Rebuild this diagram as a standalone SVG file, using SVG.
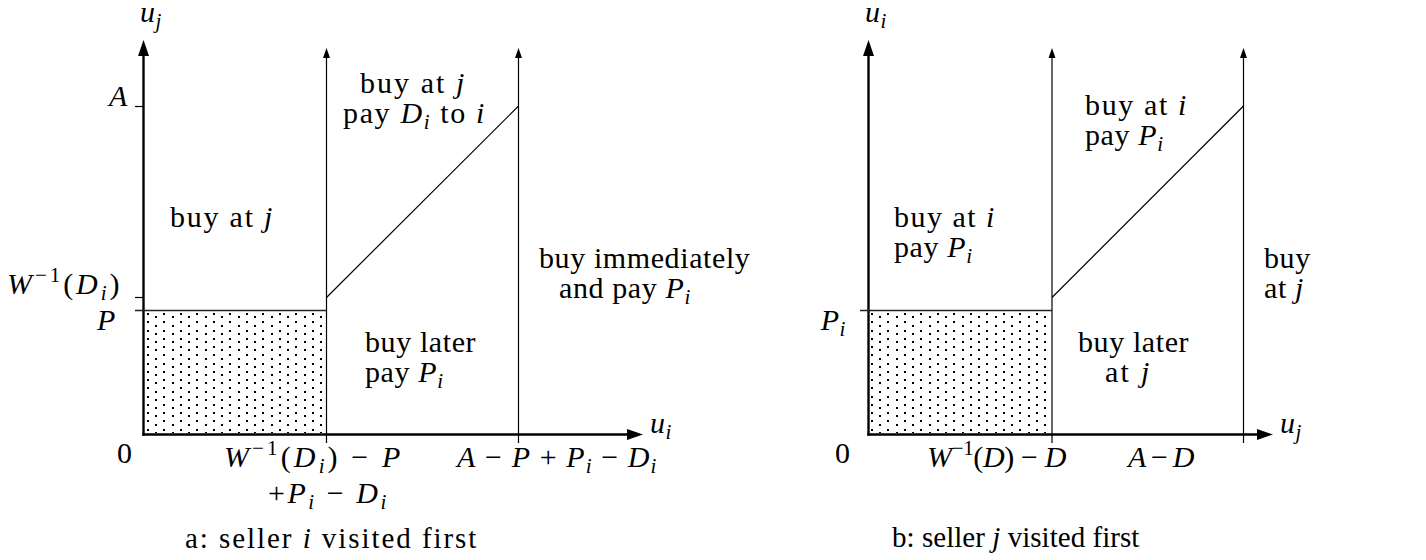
<svg xmlns="http://www.w3.org/2000/svg" width="1426" height="560" viewBox="0 0 1426 560">
<style>
.ax{stroke:#000;stroke-width:2.4;fill:none}
.ln{stroke:#000;stroke-width:1.2;fill:none}
.hl{stroke:#222;stroke-width:1.4;fill:none}
text{font-size:30px;letter-spacing:0.6px;fill:#000}
.m{font-style:italic}
.s{font-size:21px}
.cap{font-size:29px}
</style>
<defs>
<marker id="ah" markerUnits="userSpaceOnUse" markerWidth="18" markerHeight="14" refX="8" refY="6" orient="auto" overflow="visible"><path d="M0,0.5 L16,6 L0,11.5 z" fill="#000"/></marker>
<marker id="at" markerUnits="userSpaceOnUse" markerWidth="12" markerHeight="8" refX="5" refY="3.5" orient="auto" overflow="visible"><path d="M0,0 L10,3.5 L0,7 z" fill="#000"/></marker>
<pattern id="dots" patternUnits="userSpaceOnUse" x="144" y="313" width="33" height="33">
  <g fill="#000">
    <rect x="3" y="0" width="2" height="2"/><rect x="19" y="0" width="2" height="2"/>
    <rect x="3" y="8" width="2" height="2"/><rect x="19" y="8" width="2" height="2"/>
    <rect x="3" y="17" width="2" height="2"/><rect x="19" y="17" width="2" height="2"/>
    <rect x="3" y="25" width="2" height="2"/><rect x="19" y="25" width="2" height="2"/>
    <rect x="11" y="3" width="2" height="2"/><rect x="28" y="3" width="2" height="2"/>
    <rect x="11" y="12" width="2" height="2"/><rect x="28" y="12" width="2" height="2"/>
    <rect x="11" y="20" width="2" height="2"/><rect x="28" y="20" width="2" height="2"/>
    <rect x="11" y="28" width="2" height="2"/><rect x="28" y="28" width="2" height="2"/>
  </g>
</pattern>
</defs>

<g font-family="'Liberation Serif', 'Times New Roman', serif">
<g id="panel-a">
  <g id="a-shade"><rect x="145" y="311.5" width="180.5" height="121.5" fill="url(#dots)"/></g>
  <g id="a-connectors">
    <line class="ax" x1="143.5" y1="435.7" x2="143.5" y2="48" marker-end="url(#ah)"/>
    <line class="ax" x1="142.3" y1="434.5" x2="635" y2="434.5" marker-end="url(#ah)"/>
    <line class="ln" x1="326.5" y1="443" x2="326.5" y2="53" marker-end="url(#at)"/>
    <line class="ln" x1="518.5" y1="443" x2="518.5" y2="53" marker-end="url(#at)"/>
    <line class="ln" x1="326.5" y1="297.5" x2="518.5" y2="106"/>
    <line class="ln" x1="135" y1="106.5" x2="143" y2="106.5"/>
    <line class="ln" x1="135" y1="297.5" x2="143" y2="297.5"/>
    <line class="hl" x1="135" y1="310.5" x2="326.5" y2="310.5"/>
  </g>
  <g id="a-labels">
    <text x="140" y="22"><tspan class="m">u</tspan><tspan class="s m" dy="6">j</tspan></text>
    <text x="128" y="106" text-anchor="end" class="m">A</text>
    <text x="7" y="294" textLength="113" lengthAdjust="spacing"><tspan class="m">W</tspan><tspan class="s" dy="-12">−1</tspan><tspan dy="12">(</tspan><tspan class="m">D</tspan><tspan class="s m" dy="6">i</tspan><tspan dy="-6">)</tspan></text>
    <text x="116" y="330" text-anchor="end" class="m">P</text>
    <text x="117" y="463">0</text>
    <text x="650" y="433"><tspan class="m">u</tspan><tspan class="s m" dy="6">i</tspan></text>
  </g>
  <g id="a-region-buy-at-j"><text x="170" y="227" textLength="103" lengthAdjust="spacing">buy at <tspan class="m">j</tspan></text></g>
  <g id="a-region-pay-Di">
    <text x="360" y="93" textLength="105" lengthAdjust="spacing">buy at <tspan class="m">j</tspan></text>
    <text x="343" y="123" textLength="142" lengthAdjust="spacing">pay <tspan class="m">D</tspan><tspan class="s m" dy="6">i</tspan><tspan dy="-6"> to </tspan><tspan class="m">i</tspan></text>
  </g>
  <g id="a-region-immediately">
    <text x="539" y="268">buy immediately</text>
    <text x="559" y="298">and pay <tspan class="m">P</tspan><tspan class="s m" dy="6">i</tspan></text>
  </g>
  <g id="a-region-later">
    <text x="365" y="352">buy later</text>
    <text x="365" y="382">pay <tspan class="m">P</tspan><tspan class="s m" dy="6">i</tspan></text>
  </g>
  <g id="a-xlabels">
    <text x="224" y="467" textLength="177" lengthAdjust="spacing"><tspan class="m">W</tspan><tspan class="s" dy="-12">−1</tspan><tspan dy="12">(</tspan><tspan class="m">D</tspan><tspan class="s m" dy="6">i</tspan><tspan dy="-6">) − </tspan><tspan class="m">P</tspan></text>
    <text x="268" y="503" textLength="119" lengthAdjust="spacing">+<tspan class="m">P</tspan><tspan class="s m" dy="6">i</tspan><tspan dy="-6"> − </tspan><tspan class="m">D</tspan><tspan class="s m" dy="6">i</tspan></text>
    <text x="457" y="467" textLength="200" lengthAdjust="spacing"><tspan class="m">A</tspan> − <tspan class="m">P</tspan> + <tspan class="m">P</tspan><tspan class="s m" dy="6">i</tspan><tspan dy="-6"> − </tspan><tspan class="m">D</tspan><tspan class="s m" dy="6">i</tspan></text>
    <text class="cap" x="185" y="548" textLength="292" lengthAdjust="spacing">a: seller <tspan class="m">i</tspan> visited first</text>
  </g>
</g>

<g id="panel-b">
  <g id="b-shade" transform="translate(724,0)"><rect x="145" y="311.5" width="182.5" height="121.5" fill="url(#dots)"/></g>
  <g id="b-connectors">
    <line class="ax" x1="868.5" y1="435.7" x2="868.5" y2="48" marker-end="url(#ah)"/>
    <line class="ax" x1="867.3" y1="434.5" x2="1265" y2="434.5" marker-end="url(#ah)"/>
    <line class="ln" x1="1052" y1="443" x2="1052" y2="53" marker-end="url(#at)"/>
    <line class="ln" x1="1243.5" y1="443" x2="1243.5" y2="53" marker-end="url(#at)"/>
    <line class="ln" x1="1052" y1="297.5" x2="1243.5" y2="106"/>
    <line class="hl" x1="860" y1="310.5" x2="1052" y2="310.5"/>
  </g>
  <g id="b-labels">
    <text x="865" y="22"><tspan class="m">u</tspan><tspan class="s m" dy="6">i</tspan></text>
    <text x="846" y="330" text-anchor="end"><tspan class="m">P</tspan><tspan class="s m" dy="6">i</tspan></text>
    <text x="835" y="463">0</text>
    <text x="1280" y="433"><tspan class="m">u</tspan><tspan class="s m" dy="6">j</tspan></text>
  </g>
  <g id="b-region-left">
    <text x="894" y="227" textLength="101" lengthAdjust="spacing">buy at <tspan class="m">i</tspan></text>
    <text x="894" y="257">pay <tspan class="m">P</tspan><tspan class="s m" dy="6">i</tspan></text>
  </g>
  <g id="b-region-top">
    <text x="1085" y="115" textLength="102" lengthAdjust="spacing">buy at <tspan class="m">i</tspan></text>
    <text x="1085" y="145">pay <tspan class="m">P</tspan><tspan class="s m" dy="6">i</tspan></text>
  </g>
  <g id="b-region-later">
    <text x="1078" y="352">buy later</text>
    <text x="1105" y="382" textLength="45" lengthAdjust="spacing">at <tspan class="m">j</tspan></text>
  </g>
  <g id="b-region-right">
    <text x="1264" y="268">buy</text>
    <text x="1264" y="298">at <tspan class="m">j</tspan></text>
  </g>
  <g id="b-xlabels">
    <text x="927" y="467" textLength="140" lengthAdjust="spacing"><tspan class="m">W</tspan><tspan class="s" dy="-12">−1</tspan><tspan dy="12">(</tspan><tspan class="m">D</tspan>) − <tspan class="m">D</tspan></text>
    <text x="1128" y="467" textLength="67" lengthAdjust="spacing"><tspan class="m">A</tspan> − <tspan class="m">D</tspan></text>
    <text class="cap" x="892" y="547" textLength="248" lengthAdjust="spacing">b: seller <tspan class="m">j</tspan> visited first</text>
  </g>
</g>
</g>
</svg>
